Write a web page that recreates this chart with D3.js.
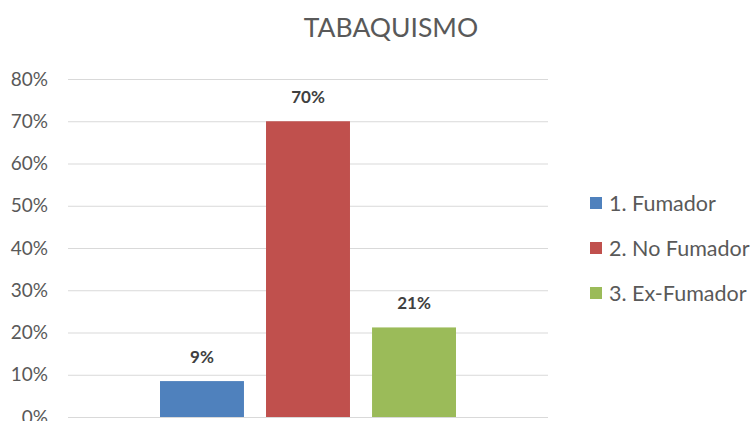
<!DOCTYPE html>
<html>
<head>
<meta charset="utf-8">
<script src="https://cdn.jsdelivr.net/npm/d3@7"></script>
<style>
  body { margin: 0; background: #fff; }
  text { font-family: Lato, "Open Sans", sans-serif; }
</style>
</head>
<body>
<svg id="chart" width="755" height="421"></svg>
<script>
const TITLE = 'TABAQUISMO';
const SERIES = ['1. Fumador', '2. No Fumador', '3. Ex-Fumador'];
const VALUES = [0.085, 0.70, 0.212];
const LABELS = ['9%', '70%', '21%'];
const COLORS = ['#4f81bd', '#c0504d', '#9bbb59'];
const TICKS = [0, 0.1, 0.2, 0.3, 0.4, 0.5, 0.6, 0.7, 0.8];

const svg = d3.select('#chart');

const plot = { left: 68, right: 548, top: 79, bottom: 417 };

const y = d3.scaleLinear()
    .domain([0, 0.8])
    .range([plot.bottom, plot.top]);

// one category, three series -> inner band for the bars
const x = d3.scaleBand()
    .domain(SERIES)
    .range([plot.left + 92, plot.right - 92])
    .paddingInner(0.208)
    .paddingOuter(0);

// title
svg.append('text')
    .attr('x', 391)
    .attr('y', 37)
    .attr('text-anchor', 'middle')
    .attr('fill', '#595959')
    .attr('font-size', 26.5)
    .text(TITLE);

// gridlines + tick labels
const yAxis = d3.axisLeft(y)
    .tickValues(TICKS)
    .tickFormat(d3.format('.0%'))
    .tickSize(-(plot.right - plot.left))
    .tickPadding(20);

const axisG = svg.append('g')
    .attr('transform', `translate(${plot.left},0)`)
    .call(yAxis);

axisG.select('.domain').remove();
axisG.selectAll('.tick line')
    .attr('stroke', '#d9d9d9')
    .attr('stroke-width', 1.2);
axisG.selectAll('.tick text')
    .attr('fill', '#595959')
    .attr('font-size', 19)
    .attr('font-family', 'Lato, "Open Sans", sans-serif');

// bars
svg.append('g')
    .selectAll('rect')
    .data(SERIES)
    .enter()
    .append('rect')
    .attr('x', d => x(d))
    .attr('width', x.bandwidth())
    .attr('y', (d, i) => y(VALUES[i]))
    .attr('height', (d, i) => plot.bottom - y(VALUES[i]))
    .attr('fill', (d, i) => COLORS[i]);

// data labels
svg.append('g')
    .selectAll('text')
    .data(SERIES)
    .enter()
    .append('text')
    .attr('x', d => x(d) + x.bandwidth() / 2)
    .attr('y', (d, i) => y(VALUES[i]) - 18)
    .attr('text-anchor', 'middle')
    .attr('font-size', 17)
    .attr('font-weight', 'bold')
    .attr('fill', '#404040')
    .text((d, i) => LABELS[i]);

// legend
const legend = svg.append('g')
    .selectAll('g')
    .data(SERIES)
    .enter()
    .append('g')
    .attr('transform', (d, i) => `translate(590, ${203 + i * 45})`);

legend.append('rect')
    .attr('x', 0)
    .attr('y', -6)
    .attr('width', 12)
    .attr('height', 12)
    .attr('fill', (d, i) => COLORS[i]);

legend.append('text')
    .attr('x', 19)
    .attr('y', 0)
    .attr('dy', '0.36em')
    .attr('font-size', 21.5)
    .attr('fill', '#595959')
    .text(d => d);
</script>
</body>
</html>
